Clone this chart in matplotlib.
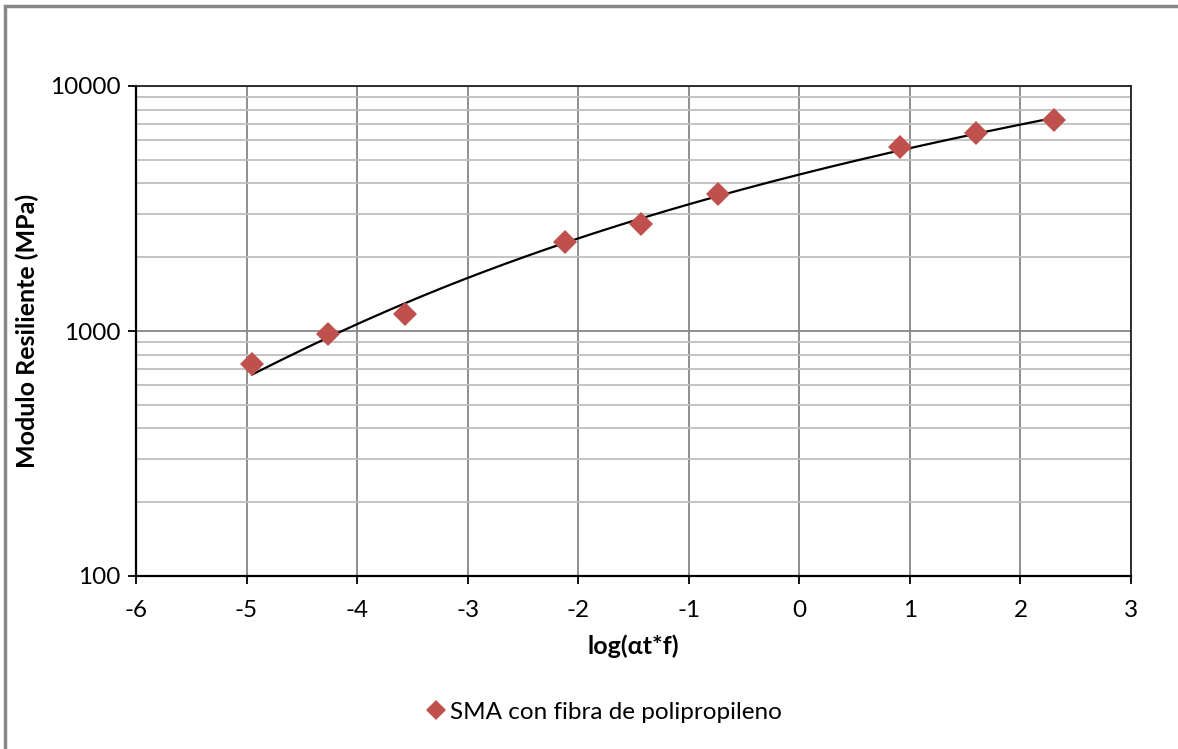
import numpy as np
import matplotlib
matplotlib.use("Agg")
import matplotlib.pyplot as plt
from matplotlib.patches import Rectangle
from matplotlib.lines import Line2D
from matplotlib.ticker import FixedLocator, NullFormatter

# Data
log_at_f = [-4.95, -4.26, -3.57, -2.12, -1.43, -0.74, 0.91, 1.60, 2.30]
modulo = [733, 972, 1173, 2308, 2733, 3625, 5634, 6430, 7267]
series_name = "SMA con fibra de polipropileno"
x_ticks = [-6, -5, -4, -3, -2, -1, 0, 1, 2, 3]
y_ticks = [100, 1000, 10000]

plt.rcParams['font.family'] = ['Lato', 'DejaVu Sans']

fig = plt.figure(figsize=(11.78, 7.49), dpi=100)
ax = fig.add_axes([136/1178, 1 - 576/749, (1131-136)/1178, (576-86)/749])

minor_y = [m * 10**e for e in (2, 3) for m in range(2, 10)]
ax.set_yscale('log')
ax.set_ylim(100, 10000)
ax.set_xlim(-6, 3)
ax.yaxis.set_minor_locator(FixedLocator(minor_y))
ax.yaxis.set_minor_formatter(NullFormatter())
ax.set_yticks(y_ticks)
ax.set_yticklabels([str(v) for v in y_ticks])
ax.set_xticks(x_ticks)
ax.set_xticklabels([str(v) for v in x_ticks])
ax.grid(which='minor', axis='y', color='#BFBFBF', lw=1.3)
ax.grid(which='major', axis='y', color='#868686', lw=1.3)
ax.grid(which='major', axis='x', color='#868686', lw=1.3)
ax.set_axisbelow(True)
ax.tick_params(which='minor', length=0)
ax.tick_params(which='major', length=6, width=1.3, direction='out', labelsize=17.5, color='black')
ax.tick_params(axis='x', pad=11)
ax.tick_params(axis='y', pad=5)

for s in ['left', 'bottom']:
    ax.spines[s].set_color('black')
    ax.spines[s].set_linewidth(1.6)
for s in ['top', 'right']:
    ax.spines[s].set_color('#222222')
    ax.spines[s].set_linewidth(1.3)

# polynomial trendline (order 2) fitted to data
xa = np.array(log_at_f)
ya = np.array(modulo)
coef = np.polyfit(xa, ya, 2)
xs = np.linspace(xa.min(), xa.max(), 200)
ax.plot(xs, np.polyval(coef, xs), color='black', lw=1.6, zorder=3)

ax.plot(log_at_f, modulo, linestyle='none', marker='D', markersize=12,
        color='#C0504D', markeredgewidth=0, zorder=4)

ax.set_xlabel('log(αt*f)', fontsize=18, fontweight='bold', labelpad=10)
ax.set_ylabel('Modulo Resiliente (MPa)', fontsize=18, fontweight='bold', labelpad=8)

handle = Line2D([], [], linestyle='none', marker='D', markersize=10,
                color='#C0504D', markeredgewidth=0)
fig.legend([handle], [series_name], loc='center', bbox_to_anchor=(603/1178, 1 - 712/749),
           frameon=False, fontsize=17.5, handletextpad=0.1, handlelength=1.0)

fig.add_artist(Rectangle((5/1178, -0.1), 1.2, 1 - 6/749 + 0.1, transform=fig.transFigure,
                         fill=False, edgecolor='#888888', lw=2.5))

fig.savefig('out.png', dpi=100)
